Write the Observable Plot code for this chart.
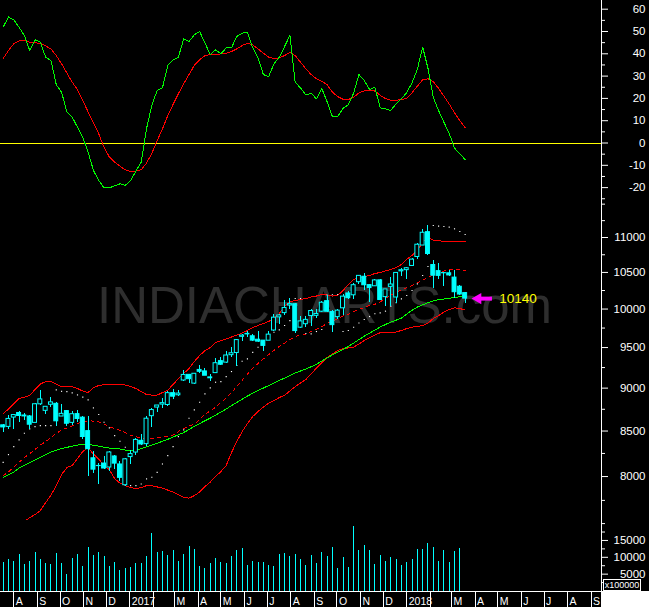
<!DOCTYPE html>
<html><head><meta charset="utf-8">
<script src="https://cdn.jsdelivr.net/npm/d3@7"></script>
<script src="https://cdn.jsdelivr.net/npm/@observablehq/plot@0.6"></script>
<style>
html,body{margin:0;padding:0;background:#000;overflow:hidden}
#c{position:relative;width:649px;height:607px;background:#000;font-family:"Liberation Sans",Arial,sans-serif}
#c > *{position:absolute;left:0}
</style></head><body><div id="c"></div>
<script>
// ---------- DATA (weekly, Monday of each week) ----------
const firstWeek = Date.UTC(2016, 6, 18);
const lastWeek = Date.UTC(2018, 2, 19);

const open = [8565,8547,8654,8707,8678,8667,8593,8808,8732,8803,
  8814,8666,8729,8593,8694,8653,8499,8197,8112,8140,
  8097,8217,8130,7908,8210,8260,8390,8353,8670,8770,
  8805,8800,8940,8915,9092,9161,9054,9221,9203,9130,
  9182,9330,9311,9404,9431,9637,9675,9644,9600,9588,
  9587,9718,9890,9946,10048,10065,9755,9800,9907,9910,
  9965,10106,9960,9893,10010,10210,10185,10364,10440,10324,
  10308,10390,10160,10300,10155,10515,10532,10591,10718,10883,
  11079,10604,10518,10488,10488,10428,10302,10215];
const high = [8575,8674,8684,8728,8696,8683,8820,8968,8770,8888,
  8834,8806,8740,8722,8737,8669,8669,8272,8142,8220,
  8274,8225,8160,8190,8280,8420,8460,8672,8757,8800,
  8880,8960,8982,8976,9218,9164,9182,9274,9242,9160,
  9368,9375,9450,9505,9605,9665,9710,9670,9700,9592,
  9700,9928,9930,10114,10138,10070,9900,9900,9988,10000,
  10100,10178,9980,9990,10191,10236,10340,10461,10490,10334,
  10404,10404,10270,10430,10501,10552,10566,10690,10916,11111,
  11171,10666,10619,10500,10525,10525,10313,10227];
const low = [8488,8518,8518,8598,8622,8518,8593,8797,8688,8768,
  8555,8666,8555,8566,8600,8400,8002,8032,7916,8080,
  8056,8076,7950,7893,8133,8227,8340,8330,8537,8717,
  8763,8786,8860,8900,9075,9050,9040,9174,9147,9075,
  9182,9270,9300,9370,9269,9580,9630,9580,9560,9448,
  9587,9700,9800,9920,10000,9686,9740,9760,9770,9875,
  9960,9952,9687,9860,9920,10130,10124,10330,10254,10094,
  10299,10108,10034,10033,10075,10437,10404,10591,10688,10881,
  10736,10276,10398,10300,10438,10141,10180,10075];
const close = [8541,8638,8683,8672,8667,8572,8809,8866,8779,8831,
  8611,8697,8583,8693,8638,8433,8297,8074,8114,8086,
  8261,8139,7986,8186,8243,8400,8349,8641,8741,8794,
  8822,8940,8898,8935,9160,9108,9174,9198,9150,9119,
  9304,9285,9400,9428,9595,9653,9668,9588,9575,9521,
  9665,9886,9915,10015,10066,9711,9837,9857,9974,9934,
  10085,9964,9788,9979,10167,10146,10323,10452,10322,10283,
  10389,10121,10265,10333,10493,10531,10559,10681,10895,11070,
  10761,10455,10452,10491,10458,10227,10195,10140];
// volume, units of 100000 (last week not yet shown)
const volume = [8400,9200,8900,10700,8000,8900,11300,9200,8300,8000,
  11000,8300,5000,9500,10700,7400,12800,10400,11300,10100,
  7400,8600,6200,6800,7100,8300,8300,10100,17200,11300,
  11600,10400,11900,8900,10700,13100,12200,7400,6800,8300,
  9500,8600,8300,10100,11900,12500,7700,8900,8600,8600,
  7700,7400,10700,11000,10100,10700,9200,7700,10400,8300,
  11300,10100,12800,6800,9800,7100,19000,11900,13400,11900,
  8000,10400,8900,9800,9200,7700,8600,9200,12200,12200,
  14000,12800,8900,11900,8600,11600,12500,null];
// Bollinger bands
const bbUpper = [8700,8752,8816,8875,8893,8911,8983,9049,9079,9079,
  9049,9019,9019,9019,8995,8965,8947,9007,9031,9043,
  9043,9049,9049,9037,9019,8995,8959,8923,8917,8917,
  8947,8977,9043,9116,9177,9238,9324,9399,9462,9500,
  9563,9589,9608,9634,9659,9685,9718,9757,9783,9809,
  9835,9874,9940,10033,10100,10114,10128,10141,10162,10175,
  10196,10189,10175,10182,10250,10332,10401,10429,10443,10457,
  10485,10499,10520,10541,10569,10611,10683,10740,10811,10927,
  11000,10963,10956,10941,10941,10941,10941,10941];
const bbLower = [null,null,null,null,7534,7574,7604,7645,7726,7804,
  7904,8021,8096,8118,8193,8271,8315,8243,8188,8118,
  8075,7978,7930,7904,7883,7873,7883,7904,7902,7890,
  7878,7857,7836,7810,7783,7773,7799,7836,7894,7941,
  8000,8053,8118,8260,8381,8494,8585,8666,8724,8776,
  8823,8851,8887,8917,8965,9019,9061,9104,9171,9244,
  9312,9374,9418,9462,9487,9494,9504,9545,9589,9627,
  9660,9689,9689,9689,9700,9718,9744,9762,9770,9783,
  9816,9874,9914,9960,9993,10016,10007,9987];
const bbMiddle = [8010,8050,8099,8156,8204,8248,8293,8343,8382,8426,
  8472,8510,8535,8558,8585,8604,8615,8614,8603,8579,
  8548,8528,8508,8483,8451,8437,8420,8418,8418,8421,
  8432,8441,8455,8494,8530,8556,8577,8631,8691,8732,
  8774,8829,8881,8947,9019,9094,9167,9240,9300,9357,
  9411,9465,9515,9557,9601,9644,9653,9671,9705,9735,
  9770,9809,9840,9874,9910,9927,9967,9995,10020,10047,
  10063,10097,10141,10186,10228,10260,10288,10318,10354,10389,
  10432,10466,10494,10520,10536,10550,10541,10524];
const movingAvg = [7989,8018,8048,8092,8121,8150,8178,8208,8237,8265,
  8285,8304,8317,8330,8342,8349,8349,8342,8330,8320,
  8309,8304,8300,8287,8276,8287,8304,8323,8343,8363,
  8385,8407,8432,8457,8483,8517,8555,8585,8617,8647,
  8683,8717,8752,8793,8830,8867,8905,8940,8971,9001,
  9031,9061,9092,9122,9150,9183,9208,9232,9260,9290,
  9331,9368,9409,9443,9477,9513,9557,9601,9645,9683,
  9724,9763,9796,9829,9853,9880,9934,9983,10027,10056,
  10085,10108,10125,10135,10145,10153,10165,10189];
const sar = [8153,8237,8326,8401,8475,8524,8551,8562,8562,8562,
  8979,8962,8959,8943,8919,8893,8860,8766,8689,8600,
  8536,8449,8385,8318,7904,7904,7921,7975,7992,8045,
  8135,8226,8326,8437,8513,8646,8743,8832,8931,9003,
  9071,9079,9140,9201,9275,9328,9358,9440,9504,9567,
  9653,9696,9727,9783,9848,10141,10141,9679,9675,9705,
  9731,10189,10192,10196,9705,9718,9761,9816,9862,9901,
  9937,9950,9972,10038,10084,10137,10182,10250,10342,10457,
  10583,11178,11168,11163,11153,11128,11088,11044];
// oscillator (top panel)
const oscGreen = [52,56.5,55.2,51.9,48.2,41.5,46.3,45.2,38.5,37,
  26.2,22.8,13.9,11.6,7.1,2.6,-4.1,-12.3,-16.8,-20.1,
  -20.1,-19.2,-18.3,-19,-16.8,-12.6,-8.6,6.4,17,23.5,
  24.7,34.8,37.3,38.5,46.7,45.5,48.5,50,44.8,39.7,
  41.8,40,42.6,42.7,47.8,49.2,49.7,42.7,38.2,30.7,
  29.8,35.5,38.5,43.3,48.2,27.2,24.7,21.6,22.3,19.8,
  24.5,18.5,11.9,11.9,15.5,17.2,22.3,30.7,28,24,
  25,15.8,15.3,14.6,17.6,19.8,22.6,27,33,43,
  33.5,20.5,14.5,9.3,4.3,-2.3,-4.8,-7.5];
const oscRed = [37.8,41.5,44.5,45.8,46,45.2,44.9,44.7,43.5,42.2,
  39.2,35.5,31.4,27.3,23.9,19.1,13.9,9,4.1,-1.9,
  -6.3,-8.6,-10.4,-12,-12.8,-12.6,-12,-9,-4.6,1.1,
  6.3,12.3,17.3,22.1,26.6,30.7,34.8,37.3,39.2,39.6,
  39.6,40,40.3,41,42.2,43.7,44.7,44,42.2,40.3,
  38.5,37.8,38.2,39.2,40.7,39.2,36.2,33.3,30.7,28.8,
  27.7,26.2,22.8,20.8,19.6,19.5,20.5,22.5,23.4,23.5,
  23.3,21.4,19.9,19.1,19.2,19.4,20,22.5,25.5,28.3,
  28.8,27.5,24.5,21,17.5,13.5,10,6.8];

// tick values
const oscTicks = [-20,-10,0,10,20,30,40,50,60];
const oscMinor = [-25,-15,-5,5,15,25,35,45,55];
const priceTicks = [8000,8500,9000,9500,10000,10500,11000];
const priceMinor = [7750,8250,8750,9250,9750,10250,10750,11250,11500];
const volTicks = [5000,10000,15000];
const volMinor = [2500,7500,12500,17500,20000];
const monthLetters = ["J","F","M","A","M","J","J","A","S","O","N","D"];
const watermark = "INDIACHARTS.com";
const volUnit = "x100000";

// ---------- BUILD ----------
const dates = d3.utcMonday.range(new Date(firstWeek), new Date(lastWeek + 864e5));
const rows = dates.map((date, i) => ({
  date, open: open[i], high: high[i], low: low[i], close: close[i], volume: volume[i],
  upper: bbUpper[i], lower: bbLower[i], mid: bbMiddle[i], ma: movingAvg[i], sar: sar[i],
  oscG: oscGreen[i], oscR: oscRed[i]
}));
const shift = (d, days) => new Date(+d + days * 864e5);
const last = rows[rows.length - 1];

const CYAN = "#00ffff", RED = "#ff0000", GREEN = "#00ff00", WHITE = "#ffffff";
const X = {type: "utc", domain: [new Date(Date.UTC(2016, 6, 14, 12)), new Date(Date.UTC(2018, 8, 14, 18))], axis: null};
const base = {
  width: 649, marginLeft: 0, marginRight: 48, marginTop: 0, marginBottom: 0, x: X,
  style: {background: "transparent", color: WHITE, fontFamily: "Liberation Sans, Arial, sans-serif", fontSize: "11.5px", overflow: "visible"}
};
const fmt = d => String(d);
const axisOpts = {anchor: "right", tickSize: 6, tickPadding: 38, textAnchor: "end", color: WHITE, fontSize: 11.5, tickFormat: fmt, label: null};
const minorOpts = {anchor: "right", tickSize: 3, tickFormat: () => "", color: WHITE, label: null};

const c = document.getElementById("c");

// watermark (behind everything)
const wm = d3.create("svg").attr("width", 649).attr("height", 607).style("top", "0px");
wm.append("text").attr("x", 97).attr("y", 323).attr("textLength", 455).attr("lengthAdjust", "spacingAndGlyphs")
  .attr("font-size", 52).attr("fill", "#2e2e2e").attr("font-family", "Liberation Sans, Arial, sans-serif").text(watermark);
c.appendChild(wm.node());

// top oscillator panel
const topPanel = Plot.plot({
  ...base, height: 200,
  y: {domain: [-25.78, 63.9], axis: null},
  marks: [
    Plot.ruleY([0], {stroke: "#ffff00", strokeWidth: 1, shapeRendering: "crispEdges"}),
    Plot.line(rows, {x: "date", y: "oscR", stroke: RED, strokeWidth: 1, shapeRendering: "crispEdges"}),
    Plot.line(rows, {x: "date", y: "oscG", stroke: GREEN, strokeWidth: 1, shapeRendering: "crispEdges"}),
    Plot.axisY(oscTicks, axisOpts),
    Plot.axisY(oscMinor, minorOpts)
  ]
});
topPanel.style.top = "0px";
c.appendChild(topPanel);

// price panel
const up = rows.filter(d => d.close >= d.open);
const down = rows.filter(d => d.close < d.open);
const pricePanel = Plot.plot({
  ...base, height: 320,
  y: {type: "log", domain: [7545, 11556], axis: null},
  marks: [
    Plot.line(rows, {x: "date", y: "upper", stroke: RED, strokeWidth: 1, clip: true, shapeRendering: "crispEdges"}),
    Plot.line(rows, {x: "date", y: "lower", stroke: RED, strokeWidth: 1, clip: true, shapeRendering: "crispEdges"}),
    Plot.line(rows, {x: "date", y: "mid", stroke: RED, strokeWidth: 1, strokeDasharray: "3,4", clip: true, shapeRendering: "crispEdges"}),
    Plot.line(rows, {x: "date", y: "ma", stroke: GREEN, strokeWidth: 1, clip: true, shapeRendering: "crispEdges"}),
    Plot.dot(rows, {x: "date", y: "sar", symbol: "square", r: 0.65, fill: WHITE, stroke: null}),
    Plot.ruleX(rows, {x: "date", y1: "low", y2: "high", stroke: CYAN, strokeWidth: 1, shapeRendering: "crispEdges"}),
    Plot.rect(down, {x1: d => shift(d.date, -2.6), x2: d => shift(d.date, 2.6), y1: "open", y2: "close", fill: CYAN, stroke: CYAN, strokeWidth: 1}),
    Plot.rect(up, {x1: d => shift(d.date, -2.6), x2: d => shift(d.date, 2.6), y1: "open", y2: "close", fill: "#000000", stroke: CYAN, strokeWidth: 1}),
    Plot.ruleY([last], {x1: d => shift(d.date, 21), x2: d => shift(d.date, 36), y: "close", stroke: "#ff00ff", strokeWidth: 4}),
    Plot.dot([last], {x: d => shift(d.date, 17), y: "close", symbol: "triangle", rotate: -90, r: 4.2, fill: "#ff00ff", stroke: null}),
    Plot.text([last], {x: "date", y: "close", text: d => String(d.close), dx: 34, textAnchor: "start", fill: "#ffff00", fontSize: 13.5}),
    Plot.axisY(priceTicks, axisOpts),
    Plot.axisY(priceMinor, minorOpts)
  ]
});
pricePanel.style.top = "200px";
c.appendChild(pricePanel);

// volume panel
const volPanel = Plot.plot({
  ...base, height: 71, marginBottom: 0.5,
  y: {domain: [0, 20920], axis: null},
  marks: [
    Plot.ruleX(rows.filter(d => d.volume != null), {x: "date", y1: 0, y2: "volume", stroke: CYAN, strokeWidth: 1, shapeRendering: "crispEdges"}),
    Plot.axisY(volTicks, axisOpts),
    Plot.axisY(volMinor, minorOpts)
  ]
});
volPanel.style.top = "520px";
c.appendChild(volPanel);

// month axis strip
const months = d3.utcMonth.range(new Date(Date.UTC(2016, 7, 1)), new Date(Date.UTC(2018, 9, 1)));
const monthLabel = d => d.getUTCMonth() === 0 ? String(d.getUTCFullYear()) : d.getUTCMonth() === 1 ? "" : monthLetters[d.getUTCMonth()];
const axisPanel = Plot.plot({
  ...base, height: 16,
  marks: [
    Plot.ruleX(months, {x: d => d, stroke: WHITE, strokeWidth: 1, shapeRendering: "crispEdges"}),
    Plot.text(months, {x: d => d, text: monthLabel, frameAnchor: "middle", textAnchor: "start", dx: 2, dy: 1.7, fill: WHITE, fontSize: 10.5})
  ]
});
axisPanel.style.top = "591px";
c.appendChild(axisPanel);

// decorations: right axis line, bottom border, white corner, volume unit box
function box(style, text) {
  const el = document.createElement("div");
  Object.assign(el.style, style);
  if (text) el.textContent = text;
  c.appendChild(el);
}
box({left: "601px", top: "0px", width: "1px", height: "591px", background: WHITE});
box({left: "0px", top: "591px", width: "601px", height: "1px", background: WHITE});
box({left: "601px", top: "591px", width: "48px", height: "16px", background: WHITE});
box({left: "603px", top: "579px", width: "36px", height: "10px", border: "1px solid #fff", color: WHITE,
  fontSize: "9px", lineHeight: "10px", textAlign: "center", fontFamily: "Liberation Sans, Arial, sans-serif", background: "#000"}, volUnit);
</script></body></html>
